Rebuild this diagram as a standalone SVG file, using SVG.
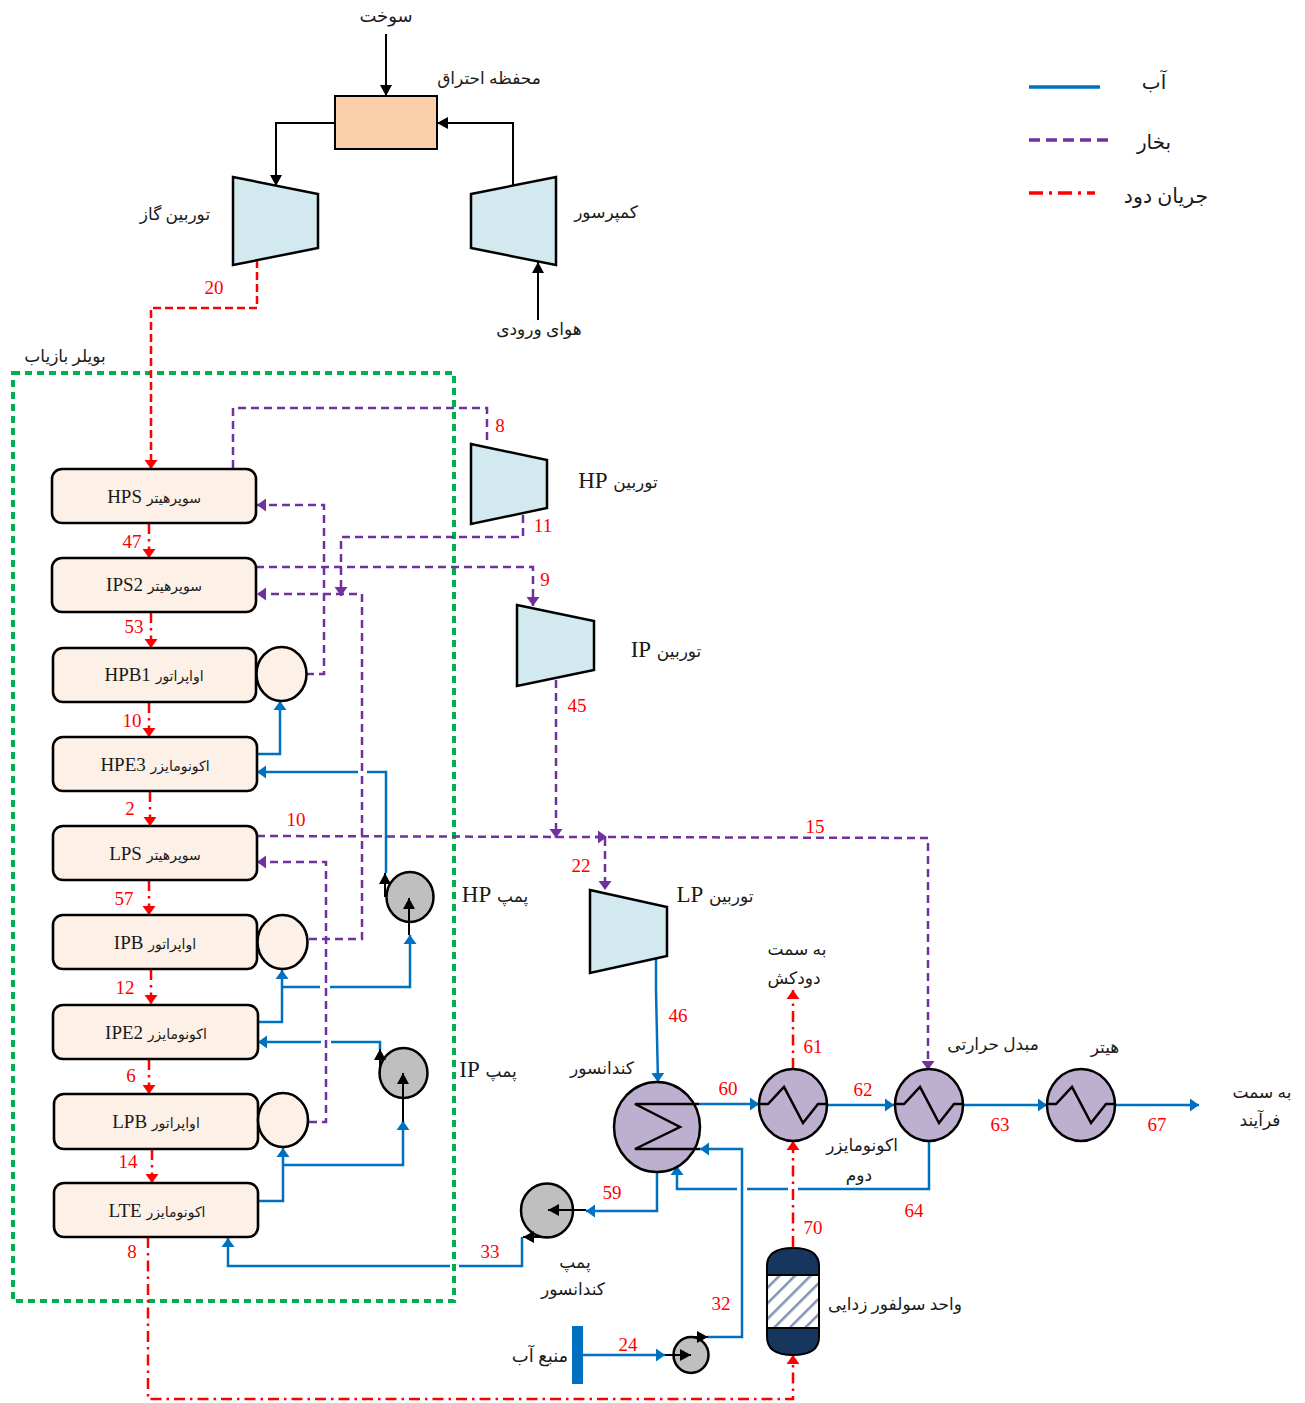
<svg xmlns="http://www.w3.org/2000/svg" width="1305" height="1403" viewBox="0 0 1305 1403">
<style>
text{font-family:"Liberation Serif","DejaVu Sans",serif;text-anchor:middle;fill:#1a1a1a;font-size:17px}
.fa{direction:rtl}
.n{fill:#FF0000;font-size:19px}
.bx{font-size:19px;direction:rtl}
.bx tspan{font-size:14px}
.lat{font-size:23px;direction:rtl}
.lat tspan{font-size:17px}
.box{fill:#FDF0E6;stroke:#000;stroke-width:2.600}
.tur{fill:#D2E9EF;stroke:#000;stroke-width:2.500}
.hx{fill:#BDAFCF;stroke:#000;stroke-width:2.500}
.pu{fill:#BFBFBF;stroke:#000;stroke-width:2.500}
.coil{fill:none;stroke:#000;stroke-width:2.500}
path{fill:none}
.k{stroke:#000;stroke-width:2}
.b{stroke:#0070C0;stroke-width:2.500}
.p{stroke:#7030A0;stroke-width:2.500;stroke-dasharray:8 5}
.r{stroke:#FF0000;stroke-width:2.500;stroke-dasharray:8 4}
.rd{stroke:#FF0000;stroke-width:2.500;stroke-dasharray:11 5 2.500 5}
</style>
<defs>
<marker id="ak" markerUnits="userSpaceOnUse" markerWidth="14" markerHeight="14" refX="11" refY="7" orient="auto"><path d="M0,1 L11,7 L0,13 Z" style="fill:#000;stroke:none"/></marker>
<marker id="ab" markerUnits="userSpaceOnUse" markerWidth="14" markerHeight="14" refX="9" refY="7" orient="auto"><path d="M0,0.500 L9,7 L0,13.500 Z" style="fill:#0070C0;stroke:none"/></marker>
<marker id="ap" markerUnits="userSpaceOnUse" markerWidth="14" markerHeight="14" refX="9" refY="7" orient="auto"><path d="M0,0.500 L9,7 L0,13.500 Z" style="fill:#7030A0;stroke:none"/></marker>
<marker id="ar" markerUnits="userSpaceOnUse" markerWidth="14" markerHeight="14" refX="9" refY="7" orient="auto"><path d="M0,0.500 L9,7 L0,13.500 Z" style="fill:#FF0000;stroke:none"/></marker>
<pattern id="hatch" patternUnits="userSpaceOnUse" width="11" height="11" patternTransform="rotate(45)"><rect width="11" height="11" fill="#fff"/><rect x="0" width="2.500" height="11" fill="#7F93B2"/></pattern>
</defs>

<rect id="boiler" x="13" y="373" width="441" height="928" fill="none" stroke="#00B050" stroke-width="4" stroke-dasharray="7 5"/>

<g id="connectors">
<path class="k" d="M386,34 V96" marker-end="url(#ak)"/>
<path class="k" d="M335,123 H276 V186" marker-end="url(#ak)"/>
<path class="k" d="M513,185 V123 H437" marker-end="url(#ak)"/>
<path class="k" d="M538,320 V262" marker-end="url(#ak)"/>
<path class="r" d="M257,260 V308 H151 V469" marker-end="url(#ar)"/>
<path class="rd" d="M149,523 V558" marker-end="url(#ar)"/>
<path class="rd" d="M151,612 V648" marker-end="url(#ar)"/>
<path class="rd" d="M149,702 V737" marker-end="url(#ar)"/>
<path class="rd" d="M150,791 V826" marker-end="url(#ar)"/>
<path class="rd" d="M149,880 V915" marker-end="url(#ar)"/>
<path class="rd" d="M151,969 V1004" marker-end="url(#ar)"/>
<path class="rd" d="M149,1059 V1094" marker-end="url(#ar)"/>
<path class="rd" d="M152,1149 V1183" marker-end="url(#ar)"/>
<path class="rd" d="M148,1237 V1399 H793 V1355" marker-end="url(#ar)"/>
<path class="rd" d="M793,1247 V1141" marker-end="url(#ar)"/>
<path class="rd" d="M793,1069 V990" marker-end="url(#ar)"/>
<path class="p" d="M233,468 V408 H487 V445"/>
<path class="p" d="M523,515 V537 H341 V596" marker-end="url(#ap)"/>
<path class="p" d="M256,567 H533 V606" marker-end="url(#ap)"/>
<path class="p" d="M306,674 H324 V505 H257" marker-end="url(#ap)"/>
<path class="p" d="M309,939 H362 V594 H257" marker-end="url(#ap)"/>
<path class="p" d="M309,1122 H326 V862 H257" marker-end="url(#ap)"/>
<path class="p" d="M257,836 L928,838 V1070" marker-end="url(#ap)"/>
<path class="p" d="M556,680 V838" marker-end="url(#ap)"/>
<path class="p" d="M595,837 H607" marker-end="url(#ap)"/>
<path class="p" d="M605,838 V890" marker-end="url(#ap)"/>
<path class="b" d="M656,957 V990 L658,1082" marker-end="url(#ab)"/>
<path class="b" d="M257,754 H280 V701" marker-end="url(#ab)"/>
<path class="b" d="M358,772 H257" marker-end="url(#ab)"/>
<path class="b" d="M386,873 V772 H367"/>
<path class="b" d="M258,1022 H282 V970" marker-end="url(#ab)"/>
<path class="b" d="M282,987 H320"/>
<path class="b" d="M330,987 H410 V935" marker-end="url(#ab)"/>
<path class="b" d="M321,1042 H258" marker-end="url(#ab)"/>
<path class="b" d="M380,1050 V1042 H331"/>
<path class="b" d="M258,1201 H283 V1148" marker-end="url(#ab)"/>
<path class="b" d="M283,1165 H403 V1121" marker-end="url(#ab)"/>
<path class="b" d="M450,1266 H228 V1238" marker-end="url(#ab)"/>
<path class="b" d="M459,1266 H522 V1237"/>
<path class="b" d="M699,1104 H759" marker-end="url(#ab)"/>
<path class="b" d="M827,1105 H894" marker-end="url(#ab)"/>
<path class="b" d="M963,1105 H1047" marker-end="url(#ab)"/>
<path class="b" d="M1115,1105 H1199" marker-end="url(#ab)"/>
<path class="b" d="M929,1140 V1189 H798"/>
<path class="b" d="M788,1189 H747"/>
<path class="b" d="M737,1189 H677 V1166" marker-end="url(#ab)"/>
<path class="b" d="M707,1337 H742 V1149 H700" marker-end="url(#ab)"/>
<path class="b" d="M657,1170 V1211 H586" marker-end="url(#ab)"/>
<path class="b" d="M583,1355 H665" marker-end="url(#ab)"/>
</g>

<g id="combustor"><rect x="335" y="96" width="102" height="53" fill="#FBCFA9" stroke="#000" stroke-width="2"/></g>
<g id="gas-turbine"><polygon class="tur" points="233,177 318,194 318,248 233,265"/></g>
<g id="compressor"><polygon class="tur" points="471,194 556,177 556,265 471,248"/></g>
<g id="hp-turbine"><polygon class="tur" points="471,444 547,460 547,508 471,524"/></g>
<g id="ip-turbine"><polygon class="tur" points="517,605 594,621 594,670 517,686"/></g>
<g id="lp-turbine"><polygon class="tur" points="590,890 667,907 667,956 590,973"/></g>

<g id="hps"><rect class="box" x="52" y="469" width="204" height="54" rx="10"/><text class="bx" x="154" y="503"><tspan>سوپرهیتر</tspan> HPS</text></g>
<g id="ips2"><rect class="box" x="52" y="558" width="204" height="54" rx="10"/><text class="bx" x="154" y="591"><tspan>سوپرهیتر</tspan> IPS2</text></g>
<g id="hpb1"><rect class="box" x="53" y="648" width="203" height="54" rx="10"/><ellipse class="box" cx="281.500" cy="674" rx="25" ry="27"/><text class="bx" x="154" y="681"><tspan>اواپراتور</tspan> HPB1</text></g>
<g id="hpe3"><rect class="box" x="53" y="737" width="204" height="54" rx="10"/><text class="bx" x="155" y="771"><tspan>اکونومایزر</tspan> HPE3</text></g>
<g id="lps"><rect class="box" x="53" y="826" width="204" height="54" rx="10"/><text class="bx" x="155" y="860"><tspan>سوپرهیتر</tspan> LPS</text></g>
<g id="ipb"><rect class="box" x="53" y="915" width="204" height="54" rx="10"/><ellipse class="box" cx="282.500" cy="942" rx="25" ry="27"/><text class="bx" x="155" y="949"><tspan>اواپراتور</tspan> IPB</text></g>
<g id="ipe2"><rect class="box" x="53" y="1005" width="205" height="54" rx="10"/><text class="bx" x="156" y="1039"><tspan>اکونومایزر</tspan> IPE2</text></g>
<g id="lpb"><rect class="box" x="54" y="1094" width="204" height="55" rx="10"/><ellipse class="box" cx="283" cy="1120" rx="25" ry="27"/><text class="bx" x="156" y="1128"><tspan>اواپراتور</tspan> LPB</text></g>
<g id="lte"><rect class="box" x="54" y="1183" width="204" height="54" rx="10"/><text class="bx" x="157" y="1217"><tspan>اکونومایزر</tspan> LTE</text></g>

<g id="pump-hp"><ellipse class="pu" cx="410" cy="897" rx="23.500" ry="25"/><path class="k" d="M409,935 V898" marker-end="url(#ak)"/><path class="k" d="M385,897 V873" marker-end="url(#ak)"/></g>
<g id="pump-ip"><ellipse class="pu" cx="403.500" cy="1073" rx="24" ry="25"/><path class="k" d="M403,1122 V1073" marker-end="url(#ak)"/><path class="k" d="M380,1073 V1049" marker-end="url(#ak)"/></g>
<g id="pump-cond"><ellipse class="pu" cx="547" cy="1210.500" rx="26" ry="27"/><path class="k" d="M586,1210 H548" marker-end="url(#ak)"/><path class="k" d="M547,1237 H523" marker-end="url(#ak)"/></g>
<g id="pump-water"><ellipse class="pu" cx="691" cy="1355" rx="17.500" ry="18"/><path class="k" d="M665,1355 H691" marker-end="url(#ak)"/><path class="k" d="M691,1337 H708" marker-end="url(#ak)"/></g>

<g id="condenser"><ellipse class="hx" cx="657" cy="1127" rx="43" ry="45"/><polyline class="coil" points="699,1104 635,1104 680,1127 635,1149 700,1149"/></g>
<g id="hx1"><ellipse class="hx" cx="793" cy="1105" rx="34" ry="36"/><polyline class="coil" points="759,1104 768,1104 784,1087 803,1123 818,1104 827,1104"/></g>
<g id="hx2"><ellipse class="hx" cx="929" cy="1105" rx="34" ry="36"/><polyline class="coil" points="895,1104 904,1104 920,1087 939,1123 954,1104 963,1104"/></g>
<g id="hx3"><ellipse class="hx" cx="1081" cy="1105" rx="34" ry="36"/><polyline class="coil" points="1047,1104 1056,1104 1072,1087 1091,1123 1106,1104 1115,1104"/></g>

<g id="fgd">
<path d="M767,1275 V1266 Q767,1248 793,1248 Q819,1248 819,1266 V1275 Z" style="fill:#17365D;stroke:#000;stroke-width:2"/>
<rect x="767" y="1275" width="52" height="53" fill="url(#hatch)" stroke="#000" stroke-width="2"/>
<path d="M767,1328 V1337 Q767,1355 793,1355 Q819,1355 819,1337 V1328 Z" style="fill:#17365D;stroke:#000;stroke-width:2"/>
</g>
<g id="source"><rect x="572" y="1326" width="11" height="58" fill="#0070C0"/></g>

<g id="legend">
<path d="M1029,87 H1100" style="stroke:#0070C0;stroke-width:3.500"/>
<path d="M1029,140 H1108" style="stroke:#7030A0;stroke-width:3.500;stroke-dasharray:11 6"/>
<path d="M1029,193 H1095" style="stroke:#FF0000;stroke-width:3.500;stroke-dasharray:14 6 3 6"/>
<text class="fa" x="1154" y="89" style="font-size:20px">آب</text>
<text class="fa" x="1154" y="149" style="font-size:20px">بخار</text>
<text class="fa" x="1166" y="203" style="font-size:20.500px">جریان دود</text>
</g>

<g id="labels">
<text class="fa" x="386" y="22" style="font-size:18px">سوخت</text>
<text class="fa" x="489" y="84">محفظه احتراق</text>
<text class="fa" x="175" y="220">توربین گاز</text>
<text class="fa" x="606" y="218">کمپرسور</text>
<text class="fa" x="539" y="335">هوای ورودی</text>
<text class="fa" x="65" y="362">بویلر بازیاب</text>
<text class="lat" x="618" y="488"><tspan>توربین</tspan> HP</text>
<text class="lat" x="666" y="657"><tspan>توربین</tspan> IP</text>
<text class="lat" x="715" y="902"><tspan>توربین</tspan> LP</text>
<text class="lat" x="495" y="902"><tspan>پمپ</tspan> HP</text>
<text class="lat" x="488" y="1077"><tspan>پمپ</tspan> IP</text>
<text class="fa" x="602" y="1074">کندانسور</text>
<text class="fa" x="797" y="955">به سمت</text>
<text class="fa" x="794" y="984">دودکش</text>
<text class="fa" x="993" y="1050">مبدل حرارتی</text>
<text class="fa" x="1105" y="1053">هیتر</text>
<text class="fa" x="1262" y="1098">به سمت</text>
<text class="fa" x="1260" y="1126">فرآیند</text>
<text class="fa" x="862" y="1151">اکونومایزر</text>
<text class="fa" x="859" y="1181">دوم</text>
<text class="fa" x="575" y="1268">پمپ</text>
<text class="fa" x="573" y="1295">کندانسور</text>
<text class="fa" x="895" y="1310">واحد سولفور زدایی</text>
<text class="fa" x="540" y="1362" style="font-size:18px">منبع آب</text>
<text class="n" x="214" y="294">20</text>
<text class="n" x="500" y="432">8</text>
<text class="n" x="543" y="532">11</text>
<text class="n" x="545" y="586">9</text>
<text class="n" x="577" y="712">45</text>
<text class="n" x="132" y="548">47</text>
<text class="n" x="134" y="633">53</text>
<text class="n" x="132" y="727">10</text>
<text class="n" x="130" y="815">2</text>
<text class="n" x="296" y="826">10</text>
<text class="n" x="124" y="905">57</text>
<text class="n" x="125" y="994">12</text>
<text class="n" x="131" y="1082">6</text>
<text class="n" x="128" y="1168">14</text>
<text class="n" x="132" y="1258">8</text>
<text class="n" x="815" y="833">15</text>
<text class="n" x="581" y="872">22</text>
<text class="n" x="678" y="1022">46</text>
<text class="n" x="813" y="1053">61</text>
<text class="n" x="728" y="1095">60</text>
<text class="n" x="863" y="1096">62</text>
<text class="n" x="1000" y="1131">63</text>
<text class="n" x="1157" y="1131">67</text>
<text class="n" x="612" y="1199">59</text>
<text class="n" x="914" y="1217">64</text>
<text class="n" x="813" y="1234">70</text>
<text class="n" x="490" y="1258">33</text>
<text class="n" x="721" y="1310">32</text>
<text class="n" x="628" y="1351">24</text>
</g>
</svg>
